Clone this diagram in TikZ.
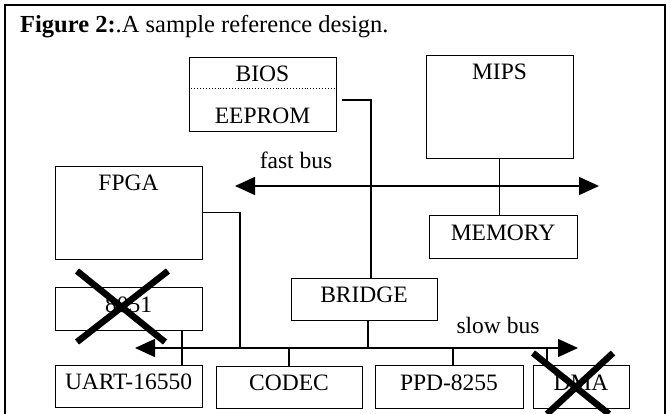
\documentclass[tikz,border=0pt]{standalone}
\usepackage{fontspec}
\setmainfont{Liberation Serif}
\usetikzlibrary{arrows.meta, positioning}

\begin{document}
\begin{tikzpicture}[
                x=1pt, y=-1pt,
                every node/.style={font=\fontsize{23.5pt}{28pt}\selectfont},
                box/.style={draw, line width=0.9pt, minimum width=147pt, minimum height=43pt,
                            inner sep=0pt, text height=15.5pt, text depth=8pt},
                tag/.style={inner sep=0pt},
                wire/.style={line width=1.2pt},
                bus/.style={line width=1.5pt,
                            {Triangle[length=20pt, width=18pt]}-{Triangle[length=20pt, width=18pt]}},
                cross/.style={line width=6.5pt}
            ]
            \useasboundingbox (0,0) rectangle (670,414);
            \draw[line width=1.2pt] (5,414) -- (5,5) -- (665,5) -- (665,414);
            \node[tag, anchor=base west, font=\fontsize{24.5pt}{29pt}\selectfont] (title) at (20,33)
                {\textbf{Figure 2:}.A sample reference design.};

            % upper part
            \node[box, minimum height=74pt] (bios) at (262.5,94) {};
            \node[tag, below=9pt of bios.north] (biosname) {BIOS};
            \node[tag, above=8pt of bios.south] (eeprom) {EEPROM};
            \draw[dotted, line width=0.9pt] ([yshift=-32pt]bios.north west) -- ([yshift=-32pt]bios.north east);
            \node[box, minimum height=103pt] (mips) at (499.5,106.5) {};
            \node[tag, below=9pt of mips.north] (mipsname) {MIPS};
            \node[box, minimum width=148pt] (memory) at (503,236.5) {MEMORY};
            \node[box, minimum height=93pt] (fpga) at (128.5,212.5) {};
            \node[tag, below=9pt of fpga.north] (fpganame) {FPGA};
            \node[box] (c8051) at (128.5,308.5) {8051};
            \node[box, minimum width=146pt, minimum height=42pt] (bridge) at (364,299) {BRIDGE};

            % slow side
            \node[box, minimum height=42pt] (uart) at (128.5,386) {UART-16550};
            \node[box, minimum width=146pt, minimum height=42pt] (codec) at (289,387) {CODEC};
            \node[box, minimum width=148pt] (ppd) at (449,386.5) {PPD-8255};
            \node[box, minimum width=96pt] (dma) at (581,386.5) {DMA};

            % buses
            \coordinate (fastL) at (235,186);
            \coordinate (fastR) at (599,186);
            \coordinate (slowL) at (135,348);
            \coordinate (slowR) at (578,348);
            \draw[bus] (fastL) -- (fastR);
            \draw[bus] (slowL) -- (slowR);
            \node[tag] (fastname) at (296,160) {fast bus};
            \node[tag] (slowname) at (498,325) {slow bus};

            \coordinate (biosout) at ([xshift=6pt, yshift=-6pt]bios.east);
            \coordinate (fpgadrop) at (240,348);
            \draw[wire] (biosout) -| ([xshift=7pt]bridge.north);
            \draw[wire] (fpga.east) -| (fpgadrop);
            \draw[wire] (mips.south) -- (mips.south |- memory.north);
            \draw[wire] ([xshift=4pt]bridge.south) -- ([xshift=4pt]bridge.south |- slowL);
            \draw[wire] ([xshift=53.5pt]c8051.south) -- ([xshift=53.5pt]uart.north);
            \draw[wire] (codec.north) -- (codec.north |- slowL);
            \draw[wire] ([xshift=4pt]ppd.north) -- ([xshift=4pt]ppd.north |- slowL);
            \draw[wire] ([xshift=-34pt]dma.north) -- ([xshift=-34pt]dma.north |- slowL);

            % crossed out
            \draw[cross] (77,271) -- (165,342) (168,271) -- (77,342);
            \draw[cross] (533,353) -- (609,414) (613,353) -- (547,414);
            \end{tikzpicture}
\end{document}
